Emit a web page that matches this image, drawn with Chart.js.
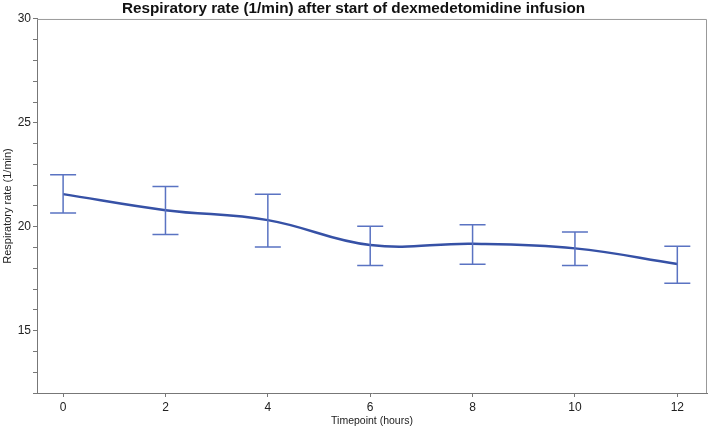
<!DOCTYPE html>
<html>
<head>
<meta charset="utf-8">
<script src="https://cdn.jsdelivr.net/npm/chart.js@4"></script>
<style>
  body { margin: 0; background: #fff; }
  canvas { display: block; }
</style>
</head>
<body>
<canvas id="chart" width="709" height="428"></canvas>
<script>
const timepoints = [0, 2, 4, 6, 8, 10, 12];
const meanRate = [21.57, 20.8, 20.32, 19.12, 19.18, 18.96, 18.21];
const upperRate = [22.5, 21.94, 21.57, 20.03, 20.1, 19.75, 19.06];
const lowerRate = [20.66, 19.63, 19.02, 18.13, 18.19, 18.13, 17.28];
const xTicks = [0, 2, 4, 6, 8, 10, 12];
const yLabels = [15, 20, 25, 30];

const lineColor = '#3651a6';
const barColor = '#5a73c2';

// error bars + frame drawn after the line
const errorBars = {
    id: 'errorBars',
    afterDatasetsDraw(chart) {
        const ctx = chart.ctx;
        const x = chart.scales.x;
        const y = chart.scales.y;
        ctx.save();
        ctx.strokeStyle = barColor;
        ctx.lineWidth = 1.5;
        timepoints.forEach((t, i) => {
            const px = x.getPixelForValue(t);
            const top = y.getPixelForValue(upperRate[i]);
            const bot = y.getPixelForValue(lowerRate[i]);
            ctx.beginPath();
            ctx.moveTo(px, top);
            ctx.lineTo(px, bot);
            ctx.moveTo(px - 13, top);
            ctx.lineTo(px + 13, top);
            ctx.moveTo(px - 13, bot);
            ctx.lineTo(px + 13, bot);
            ctx.stroke();
        });
        const a = chart.chartArea;
        ctx.strokeStyle = '#999';
        ctx.lineWidth = 1;
        ctx.beginPath();
        ctx.moveTo(a.left, a.top + 0.5);
        ctx.lineTo(a.right - 0.5, a.top + 0.5);
        ctx.lineTo(a.right - 0.5, a.bottom);
        ctx.stroke();
        ctx.restore();
    }
};

new Chart(document.getElementById('chart'), {
    type: 'line',
    data: {
        datasets: [{
            data: timepoints.map((t, i) => ({ x: t, y: meanRate[i] })),
            borderColor: lineColor,
            borderWidth: 2.5,
            pointRadius: 0,
            tension: 0.4,
            fill: false
        }]
    },
    options: {
        responsive: false,
        animation: false,
        layout: { padding: { right: 2 } },
        plugins: {
            legend: { display: false },
            tooltip: { enabled: false },
            title: {
                display: true,
                text: 'Respiratory rate (1/min) after start of dexmedetomidine infusion',
                color: '#111',
                font: { family: 'Liberation Sans', size: 15.3, weight: 'bold', lineHeight: 1.2 },
                padding: { top: 0, bottom: 0.6 }
            }
        },
        scales: {
            x: {
                type: 'linear',
                min: -0.51,
                max: 12.58,
                afterBuildTicks: scale => { scale.ticks = xTicks.map(v => ({ value: v })); },
                afterFit: scale => { scale.height = 35; },
                ticks: {
                    color: '#222',
                    font: { family: 'Liberation Sans', size: 12 },
                    padding: 3
                },
                grid: { drawOnChartArea: false, tickLength: 4, color: '#777' },
                border: { color: '#777', width: 1 },
                title: {
                    display: true,
                    text: 'Timepoint (hours)',
                    color: '#222',
                    font: { family: 'Liberation Sans', size: 10.5 },
                    padding: { top: 0, bottom: 0.5 }
                }
            },
            y: {
                min: 12,
                max: 30,
                afterFit: scale => { scale.width = 37; },
                ticks: {
                    stepSize: 1,
                    autoSkip: false,
                    color: '#222',
                    font: { family: 'Liberation Sans', size: 12 },
                    padding: 2,
                    callback: v => yLabels.includes(v) ? String(v) : ''
                },
                grid: { drawOnChartArea: false, tickLength: 4, color: '#777' },
                border: { color: '#777', width: 1 },
                title: {
                    display: true,
                    text: 'Respiratory rate (1/min)',
                    color: '#222',
                    font: { family: 'Liberation Sans', size: 11 },
                    padding: { top: 1.5, bottom: 0 }
                }
            }
        }
    },
    plugins: [errorBars]
});
</script>
</body>
</html>
